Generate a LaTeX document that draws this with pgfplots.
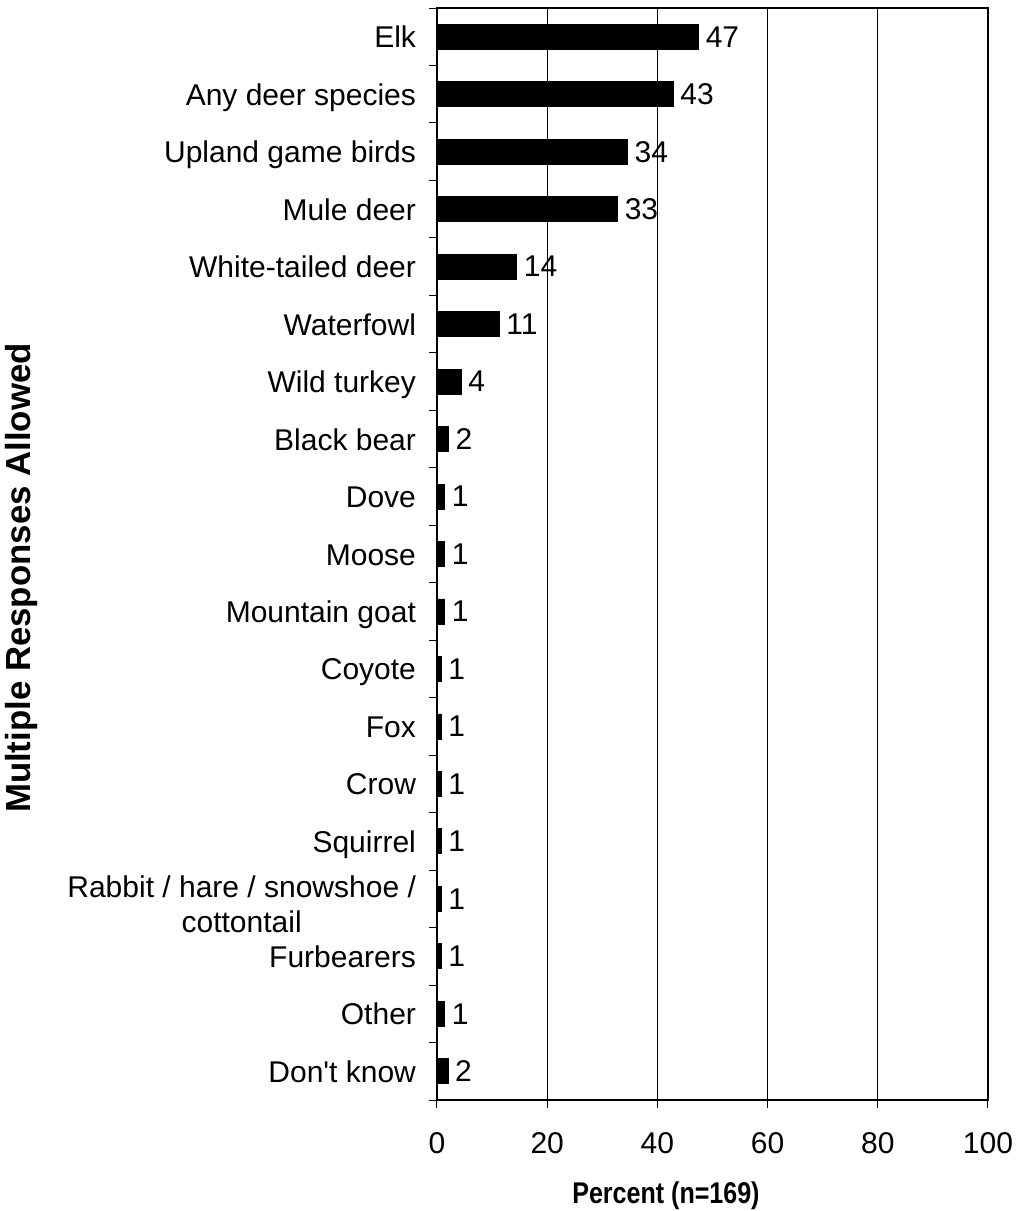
\documentclass[border=0pt]{standalone}
\usepackage{pgfplots}
\pgfplotsset{compat=1.18}
\usepackage{fontspec}
\setmainfont{Liberation Sans}
\begin{document}
\begin{tikzpicture}
\useasboundingbox (-218.5pt,-55.5pt) rectangle (290pt,550pt);
\begin{axis}[
  at={(0,0)}, anchor=south west,
  scale only axis, width=275.5pt, height=546pt,
  xbar, bar width=12.5pt,
  xmin=0, xmax=100, ymin=0.5, ymax=19.5, y dir=reverse,
  xtick={0,20,...,100},
  xmajorgrids, grid style={black, line width=0.5pt},
  ytick={0.5,1.5,...,19.5},
  y tick label as interval,
  yticklabels={Elk,Any deer species,Upland game birds,Mule deer,White-tailed deer,Waterfowl,Wild turkey,Black bear,Dove,Moose,Mountain goat,Coyote,Fox,Crow,Squirrel,{Rabbit / hare / snowshoe /\\cottontail},Furbearers,Other,Don\textquotesingle t know},
  tick align=outside, xtick pos=bottom, ytick pos=left,
  major tick length=4pt,
  tick style={black, line width=0.5pt},
  axis line style={line width=1pt},
  tick label style={font=\fontsize{15}{17.5}\selectfont},
  typeset ticklabels with strut,
  yticklabel style={align=center, xshift=-3pt, yshift=-2pt},
  xticklabel style={yshift=-7pt},
  /pgf/number format/assume math mode=true,
  xlabel={\scalebox{0.835}[1]{Percent (n=169)}},
  ylabel={Multiple Responses Allowed},
  xlabel style={font=\fontsize{15}{17.5}\selectfont\bfseries, at={(axis description cs:0.4156,0)}, anchor=base, yshift=-51.5pt},
  ylabel style={font=\fontsize{17.4}{20}\selectfont\bfseries, at={(axis description cs:-0.7532,0.478)}, anchor=center},
  nodes near coords,
  point meta=explicit symbolic,
  every node near coord/.append style={font=\fontsize{15}{17.5}\selectfont, anchor=west, black},
]
\addplot[fill=black, draw=black] table[x=v, y=i, meta=lab] {
i v lab
1 47.5 47
2 42.9 43
3 34.6 34
4 32.8 33
5 14.5 14
6 11.3 11
7 4.4 4
8 2.1 2
9 1.4 1
10 1.4 1
11 1.4 1
12 0.8 1
13 0.8 1
14 0.8 1
15 0.8 1
16 0.8 1
17 0.8 1
18 1.4 1
19 2.0 2
};
\end{axis}
\end{tikzpicture}
\end{document}
